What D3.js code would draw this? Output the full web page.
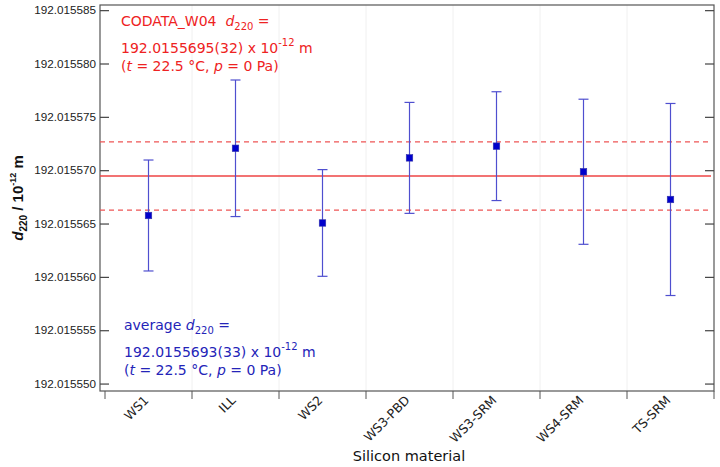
<!DOCTYPE html>
<html>
<head>
<meta charset="utf-8">
<script src="https://cdn.jsdelivr.net/npm/d3@7"></script>
<style>
  body { margin: 0; background: white; }
  svg { display: block; }
  text { white-space: pre; }
</style>
</head>
<body>
<div id="chart"></div>
<script>
// Silicon materials on the x axis
const materials = ['WS1', 'ILL', 'WS2', 'WS3-PBD', 'WS3-SRM', 'WS4-SRM', 'TS-SRM'];
// d220 values in units of 10^-12 m, and their uncertainties
const d220 = [192.0155658, 192.0155721, 192.0155651, 192.0155712, 192.0155723, 192.0155699, 192.0155673];
const d220Err = [0.0000052, 0.0000064, 0.0000050, 0.0000052, 0.0000051, 0.0000068, 0.0000090];
// CODATA reference value and its uncertainty
const codata = 192.0155695;
const codataErr = 0.0000032;
// y tick labels
const yTicks = [192.015550, 192.015555, 192.015560, 192.015565, 192.015570, 192.015575, 192.015580, 192.015585];

const width = 720, height = 467;
const frame = { left: 100, right: 714, top: 5, bottom: 391 };

const svg = d3.select('#chart').append('svg')
    .attr('width', width)
    .attr('height', height)
    .style('font-family', '"Liberation Sans", Arial, sans-serif');

// Scales
const x = d3.scaleBand()
    .domain(materials)
    .range([105, frame.right])
    .paddingInner(0)
    .paddingOuter(0);

const y = d3.scaleLinear()
    .domain([192.01554935, 192.01558553])
    .range([frame.bottom, frame.top]);

// minor ticks every 1e-6
const minorTicks = d3.range(550, 586).map(i => 192.0155 + i * 1e-6);

// vertical light grid at band boundaries
const bounds = materials.map(m => x(m)).concat([x(materials[materials.length - 1]) + x.bandwidth()]);
svg.append('g')
    .selectAll('line')
    .data(bounds.slice(1, -1))
    .enter()
    .append('line')
    .attr('x1', d => d).attr('x2', d => d)
    .attr('y1', frame.top).attr('y2', frame.bottom)
    .attr('stroke', '#f0f0f0')
    .attr('stroke-width', 1);

// Frame
svg.append('rect')
    .attr('x', frame.left)
    .attr('y', frame.top)
    .attr('width', frame.right - frame.left)
    .attr('height', frame.bottom - frame.top)
    .attr('fill', 'none')
    .attr('stroke', '#555')
    .attr('stroke-width', 1.2);

// Inside ticks on left and right frame edges
const tickG = svg.append('g');
[[frame.left, 1], [frame.right, -1]].forEach(([x0, dir]) => {
    minorTicks.forEach(v => {
        tickG.append('rect')
            .attr('x', dir > 0 ? x0 : x0 - 5)
            .attr('y', y(v) - 0.6)
            .attr('width', 5)
            .attr('height', 1.2)
            .attr('fill', '#444');
    });
    yTicks.forEach(v => {
        tickG.append('rect')
            .attr('x', dir > 0 ? x0 : x0 - 9)
            .attr('y', y(v) - 0.6)
            .attr('width', 9)
            .attr('height', 1.2)
            .attr('fill', '#444');
    });
});

// y tick labels
svg.append('g')
    .selectAll('text')
    .data(yTicks)
    .enter()
    .append('text')
    .attr('x', frame.left - 4)
    .attr('y', d => y(d))
    .attr('dy', '0.32em')
    .attr('text-anchor', 'end')
    .style('font-size', '11.7px')
    .attr('fill', '#222')
    .text(d => d3.format('.6f')(d));

// x ticks at band boundaries, pointing down
svg.append('g')
    .selectAll('line')
    .data(bounds)
    .enter()
    .append('line')
    .attr('x1', d => d).attr('x2', d => d)
    .attr('y1', frame.bottom).attr('y2', frame.bottom + 8)
    .attr('stroke', '#555');

// x tick labels, rotated
svg.append('g')
    .selectAll('text')
    .data(materials)
    .enter()
    .append('text')
    .attr('transform', d => `translate(${x(d) + x.bandwidth() / 2 + 1},${frame.bottom + 10}) rotate(-45)`)
    .attr('text-anchor', 'end')
    .style('font-family', '"DejaVu Sans", sans-serif')
    .style('font-size', '12.5px')
    .attr('fill', '#222')
    .text(d => d);

// CODATA lines
const lineX1 = frame.left, lineX2 = frame.right - 3;
svg.append('line')
    .attr('x1', lineX1).attr('x2', lineX2)
    .attr('y1', y(codata)).attr('y2', y(codata))
    .attr('stroke', '#ee4444').attr('stroke-width', 1.3);
[codata + codataErr, codata - codataErr].forEach(v => {
    svg.append('line')
        .attr('x1', lineX1).attr('x2', lineX2)
        .attr('y1', y(v)).attr('y2', y(v))
        .attr('stroke', '#ee5555').attr('stroke-width', 1.3)
        .attr('stroke-dasharray', '5,4');
});

// Error bars
const capW = 5;
const bars = svg.append('g')
    .selectAll('g')
    .data(materials)
    .enter()
    .append('g')
    .attr('stroke', '#4f4fcf')
    .attr('stroke-width', 1.2);

bars.append('line')
    .attr('x1', (d, i) => x(d) + x.bandwidth() / 2)
    .attr('x2', (d, i) => x(d) + x.bandwidth() / 2)
    .attr('y1', (d, i) => y(d220[i] + d220Err[i]))
    .attr('y2', (d, i) => y(d220[i] - d220Err[i]));
bars.append('line')
    .attr('x1', (d, i) => x(d) + x.bandwidth() / 2 - capW)
    .attr('x2', (d, i) => x(d) + x.bandwidth() / 2 + capW)
    .attr('y1', (d, i) => y(d220[i] + d220Err[i]))
    .attr('y2', (d, i) => y(d220[i] + d220Err[i]));
bars.append('line')
    .attr('x1', (d, i) => x(d) + x.bandwidth() / 2 - capW)
    .attr('x2', (d, i) => x(d) + x.bandwidth() / 2 + capW)
    .attr('y1', (d, i) => y(d220[i] - d220Err[i]))
    .attr('y2', (d, i) => y(d220[i] - d220Err[i]));

// Markers
const ms = 6.5;
svg.append('g')
    .selectAll('rect')
    .data(materials)
    .enter()
    .append('rect')
    .attr('x', d => x(d) + x.bandwidth() / 2 - ms / 2)
    .attr('y', (d, i) => y(d220[i]) - ms / 2)
    .attr('width', ms)
    .attr('height', ms)
    .attr('fill', '#0000cc')
    .attr('stroke', '#3333aa')
    .attr('stroke-width', 0.6);

// Annotations
const annoFont = '"DejaVu Sans", sans-serif';
function addLine(tx, ty, color, parts) {
    const t = svg.append('text')
        .attr('x', tx).attr('y', ty)
        .attr('fill', color)
        .style('font-family', annoFont)
        .style('font-size', '14px');
    parts.forEach(p => {
        const ts = t.append('tspan').text(p.t);
        if (p.i) ts.style('font-style', 'italic');
        if (p.sub) ts.attr('dy', 4).style('font-size', '10px');
        if (p.sup) ts.attr('dy', -7).style('font-size', '10px');
        if (p.back) ts.attr('dy', p.back);
    });
}

const red = '#ee2222';
addLine(121, 26, red, [{ t: 'CODATA_W04  ' }, { t: 'd', i: true }, { t: '220', sub: true }, { t: ' =', back: -4 }]);
addLine(121, 53, red, [{ t: '192.0155695(32) x 10' }, { t: '-12', sup: true }, { t: ' m', back: 7 }]);
addLine(121, 71, red, [{ t: '(' }, { t: 't', i: true }, { t: ' = 22.5 °C, ' }, { t: 'p', i: true }, { t: ' = 0 Pa)' }]);

const blue = '#2424b8';
addLine(124, 330, blue, [{ t: 'average ' }, { t: 'd', i: true }, { t: '220', sub: true }, { t: ' =', back: -4 }]);
addLine(124, 357, blue, [{ t: '192.0155693(33) x 10' }, { t: '-12', sup: true }, { t: ' m', back: 7 }]);
addLine(124, 375, blue, [{ t: '(' }, { t: 't', i: true }, { t: ' = 22.5 °C, ' }, { t: 'p', i: true }, { t: ' = 0 Pa)' }]);

// Axis titles
svg.append('text')
    .attr('x', 409)
    .attr('y', 461)
    .attr('text-anchor', 'middle')
    .style('font-family', annoFont)
    .style('font-size', '14.5px')
    .attr('fill', '#111')
    .text('Silicon material');

const yTitle = svg.append('text')
    .attr('transform', `translate(23,${(frame.top + frame.bottom) / 2}) rotate(-90)`)
    .attr('text-anchor', 'middle')
    .style('font-size', '15px')
    .style('font-weight', 'bold')
    .attr('fill', '#111');
yTitle.append('tspan').text('d').style('font-style', 'italic');
yTitle.append('tspan').text('220').attr('dy', 4).style('font-size', '10px');
yTitle.append('tspan').text(' / 10').attr('dy', -4);
yTitle.append('tspan').text('-12').attr('dy', -7).style('font-size', '9px');
yTitle.append('tspan').text(' m').attr('dy', 7);
</script>
</body>
</html>
